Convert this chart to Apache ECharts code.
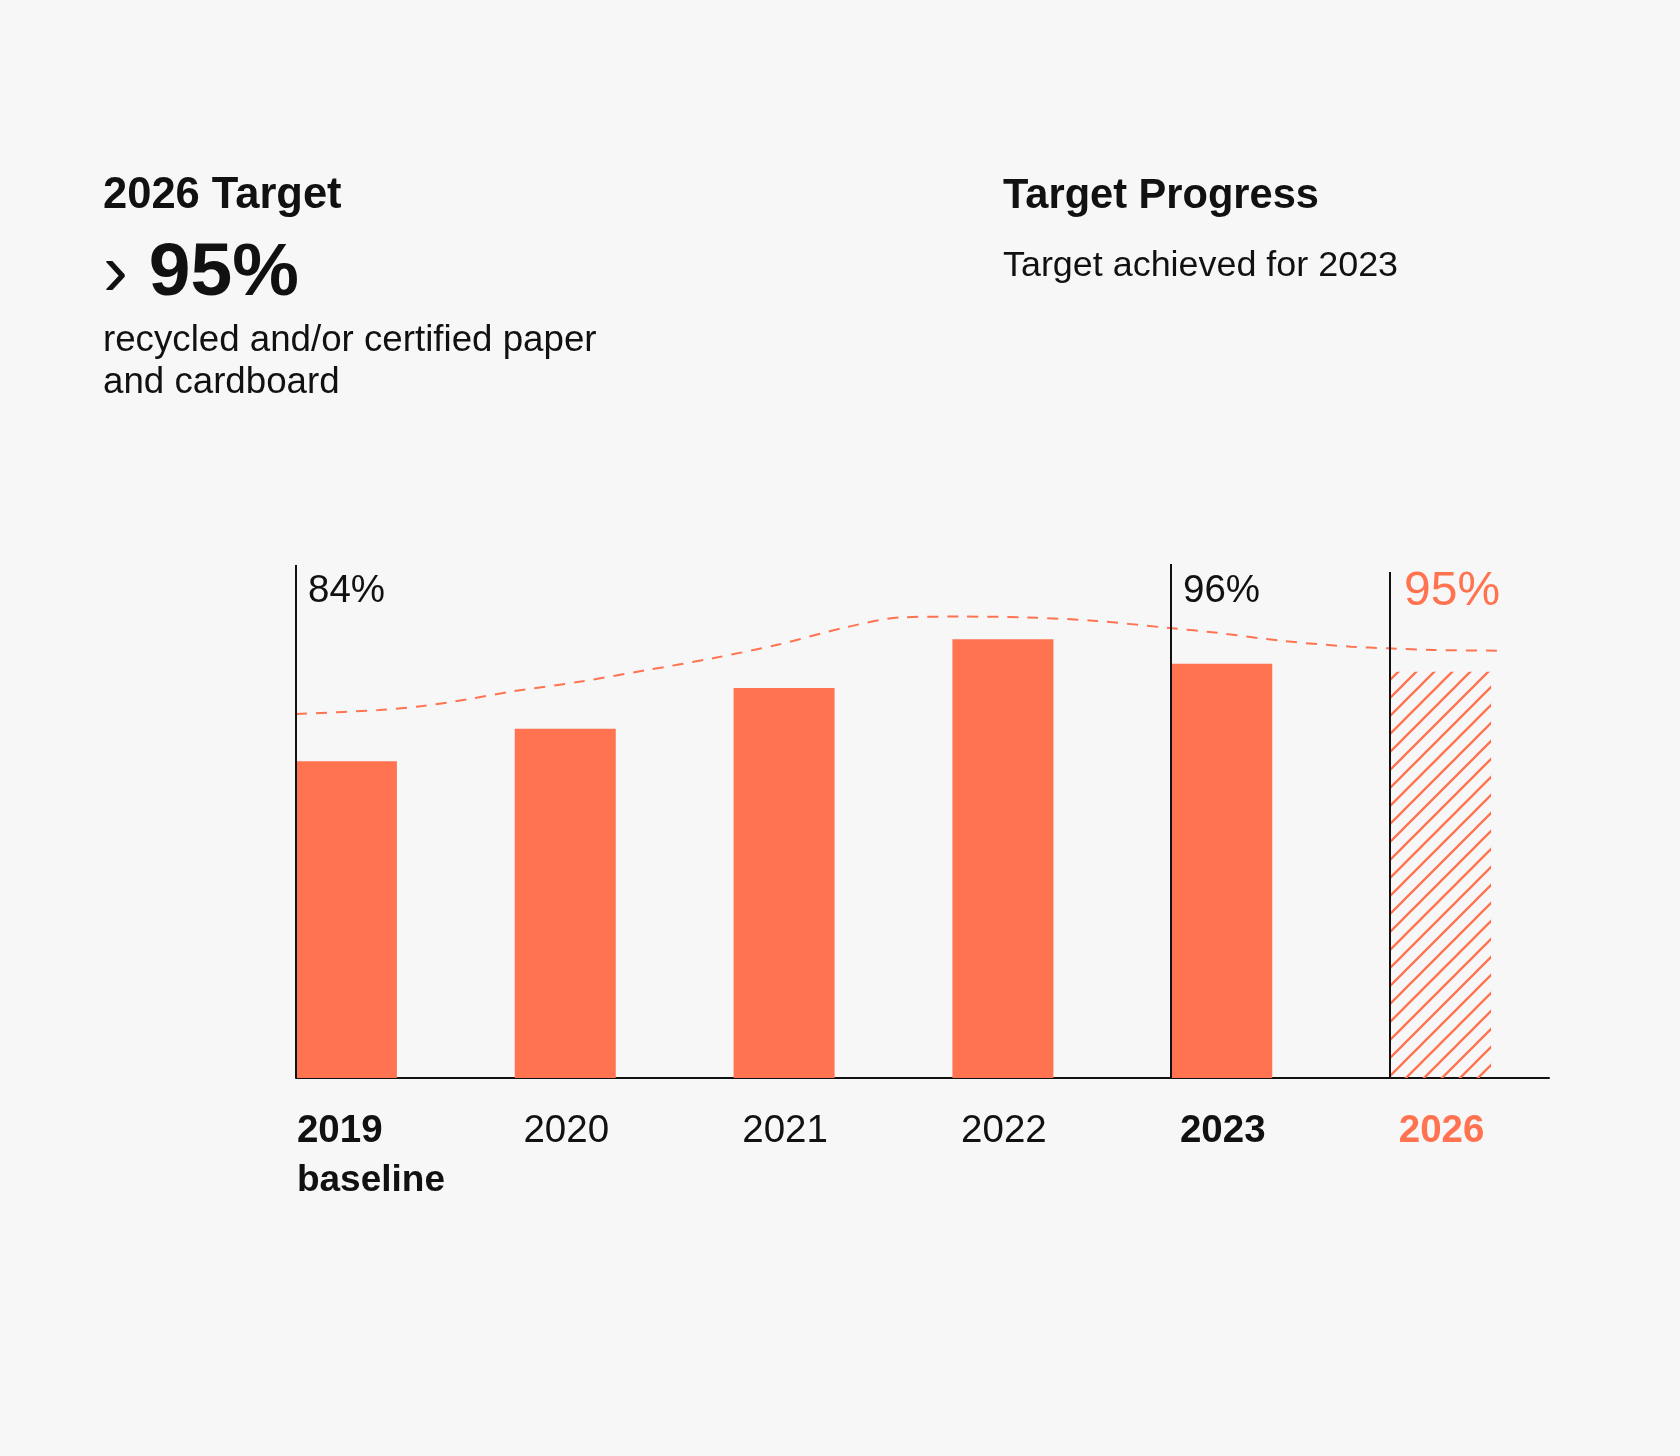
<!DOCTYPE html>
<html>
<head>
<meta charset="utf-8">
<script src="https://cdn.jsdelivr.net/npm/echarts@6/dist/echarts.min.js"></script>
<style>
html,body{margin:0;padding:0;background:#f7f7f7;}
#chart{width:1680px;height:1456px;}
</style>
</head>
<body>
<div id="chart"></div>
<script>
// ---------- data ----------
const categories = ['2019', '2020', '2021', '2022', '2023', '2026'];
const categorySubLabels = ['baseline', '', '', '', '', ''];
const barValues = [84, 88, 93, 99, 96, 95];
const markerCategories = ['2019', '2023', '2026'];
const boldCategories = ['2019', '2023', '2026'];
const targetCategory = '2026';
// dashed trend line: x in category units (0..6), y in %
const trendX = [0.27, 0.65, 0.85, 1.05, 1.26, 1.57, 1.87, 2.18, 2.48, 2.77, 3.03, 3.30, 3.61, 3.91, 4.26, 4.48, 4.78, 5.09, 5.26, 5.47, 5.76];
const trendY = [89.8, 90.3, 90.8, 91.6, 92.6, 93.8, 95.2, 96.7, 98.4, 100.4, 101.7, 101.8, 101.7, 101.3, 100.4, 99.8, 98.8, 98.1, 97.9, 97.7, 97.6];
const headerLeftTitle = '2026 Target';
const headerLeftArrow = '\u203A';
const headerLeftValue = '95%';
const headerLeftDesc = ['recycled and/or certified paper', 'and cardboard'];
const headerRightTitle = 'Target Progress';
const headerRightDesc = 'Target achieved for 2023';

// ---------- style ----------
const ORANGE = '#ff7350';
const INK = '#111111';
const FONT = '"Liberation Sans", Arial, sans-serif';
const Y_MIN = 45, Y_MAX = 110;
const BAR_W = 101;
const GRID = {left: 237, right: 130, top: 550, bottom: 378};
const markerTopOffset = [15, 14, 22];

function hatchPattern() {
  const s = 18;
  const c = document.createElement('canvas');
  c.width = s; c.height = s;
  const g = c.getContext('2d');
  g.strokeStyle = ORANGE;
  g.lineWidth = 2.3;
  g.beginPath();
  g.moveTo(0, s); g.lineTo(s, 0);
  g.moveTo(-s / 2, s / 2); g.lineTo(s / 2, -s / 2);
  g.moveTo(s / 2, s * 1.5); g.lineTo(s * 1.5, s / 2);
  g.stroke();
  return c;
}
const hatch = {image: hatchPattern(), repeat: 'repeat'};

const barData = barValues.map((v, i) => ({
  value: v,
  itemStyle: categories[i] === targetCategory ? {color: hatch} : {color: ORANGE}
}));
const trendData = trendX.map((x, i) => [x, trendY[i]]);
const markerData = markerCategories.map(c => {
  const i = categories.indexOf(c);
  return [i, barValues[i]];
});
const labelData = categories.map((c, i) => [i, Y_MIN]);

function txt(text, x, y, size, weight, color, align) {
  return {
    type: 'text',
    style: {
      text: text, x: x, y: y,
      font: (weight || 'normal') + ' ' + size + 'px ' + FONT,
      fill: color || INK,
      align: align || 'left',
      verticalAlign: 'middle'
    }
  };
}

const chart = echarts.init(document.getElementById('chart'), null, {renderer: 'canvas'});
chart.setOption({
  backgroundColor: '#f7f7f7',
  animation: false,
  grid: [
    {left: GRID.left, right: GRID.right, top: GRID.top, bottom: GRID.bottom},
    {left: 296, right: 131, top: GRID.top, bottom: GRID.bottom}
  ],
  xAxis: [
    {type: 'category', data: categories, gridIndex: 0, boundaryGap: true,
     axisLine: {show: false}, axisTick: {show: false}, axisLabel: {show: false}, splitLine: {show: false}},
    {type: 'value', gridIndex: 0, min: 0, max: categories.length, show: false},
    {type: 'value', gridIndex: 1, min: 0, max: 1, position: 'bottom',
     axisLine: {show: true, onZero: false, lineStyle: {color: INK, width: 2}},
     axisTick: {show: false}, axisLabel: {show: false}, splitLine: {show: false}}
  ],
  yAxis: [
    {type: 'value', gridIndex: 0, min: Y_MIN, max: Y_MAX, show: false, splitLine: {show: false}},
    {type: 'value', gridIndex: 1, min: 0, max: 1, show: false, splitLine: {show: false}}
  ],
  graphic: [
    txt(headerLeftTitle, 103, 196, 43.5, 'bold'),
    {
      type: 'text',
      style: {
        text: '{a|' + headerLeftArrow + '\u00A0}{b|' + headerLeftValue + '}',
        x: 103, y: 274, verticalAlign: 'middle', align: 'left',
        fill: INK,
        rich: {
          a: {font: 'normal 75px ' + FONT, fill: INK},
          b: {font: 'bold 75px ' + FONT, fill: INK}
        }
      }
    },
    txt(headerLeftDesc[0], 103, 340.5, 36.7),
    txt(headerLeftDesc[1], 103, 383.2, 36.7),
    txt(headerRightTitle, 1003, 197, 41.6, 'bold'),
    txt(headerRightDesc, 1003, 266, 35.9)
  ],
  series: [
    {
      type: 'bar', xAxisIndex: 0, yAxisIndex: 0,
      data: barData, barWidth: BAR_W, z: 2
    },
    {
      type: 'line', xAxisIndex: 1, yAxisIndex: 0,
      data: trendData, smooth: 0.3, showSymbol: false, symbol: 'none',
      lineStyle: {color: ORANGE, width: 2, type: [11, 9]}, z: 3
    },
    {
      type: 'custom', xAxisIndex: 0, yAxisIndex: 0, z: 5,
      data: markerData,
      renderItem: function (params, api) {
        const idx = api.value(0), v = api.value(1);
        const base = api.coord([idx, Y_MIN]);
        const x = Math.round(base[0] - BAR_W / 2);
        const top = params.coordSys.y + markerTopOffset[params.dataIndex];
        const isTarget = categories[idx] === targetCategory;
        return {
          type: 'group',
          children: [
            {type: 'line', shape: {x1: x, y1: top, x2: x, y2: base[1]},
             style: {stroke: INK, lineWidth: 2}},
            isTarget
              ? txt(v + '%', x + 14, 591.5, 48, 'normal', ORANGE)
              : txt(v + '%', x + 12, 591, 38.5, 'normal', INK)
          ]
        };
      }
    },
    {
      type: 'custom', xAxisIndex: 0, yAxisIndex: 0, z: 5,
      data: labelData,
      renderItem: function (params, api) {
        const idx = api.value(0);
        const base = api.coord([idx, Y_MIN]);
        const cat = categories[idx];
        const bold = boldCategories.indexOf(cat) >= 0 ? 'bold' : 'normal';
        const color = cat === targetCategory ? ORANGE : INK;
        const sub = categorySubLabels[idx];
        const children = [];
        if (sub) {
          const left = base[0] - BAR_W / 2 + 1;
          children.push(txt(cat, left, base[1] + 53.5, 38.5, bold, color, 'left'));
          children.push(txt(sub, left, base[1] + 102.5, 37, bold, color, 'left'));
        } else {
          children.push(txt(cat, base[0] + 1, base[1] + 53.5, 38.5, bold, color, 'center'));
        }
        return {type: 'group', children: children};
      }
    }
  ]
});
</script>
</body>
</html>
